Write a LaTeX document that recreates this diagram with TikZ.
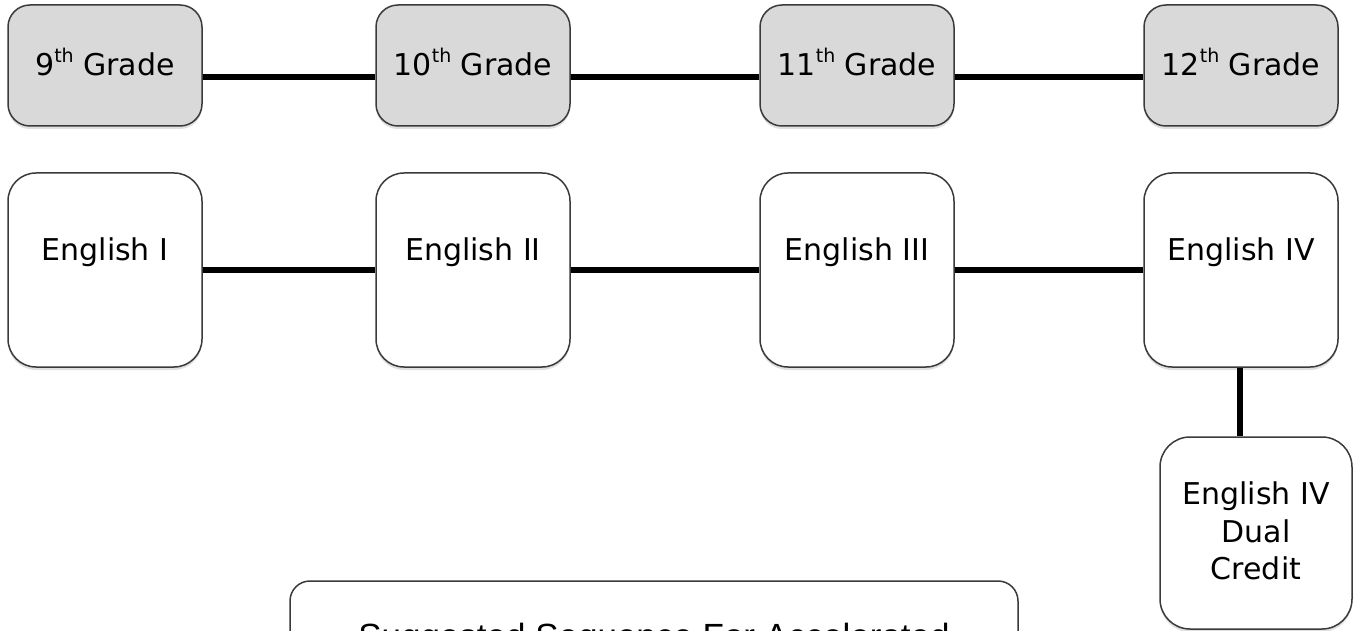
\documentclass[tikz,border=0pt]{standalone}
\usepackage{fontspec}
\setmainfont{DejaVu Sans}
\newfontfamily\bottomfont{Liberation Sans}
\usetikzlibrary{calc,shadows}
\definecolor{gfill}{HTML}{D9D9D9}
\definecolor{bord}{HTML}{3A3A3A}
\newcommand\thsup{\raisebox{0.42em}{\fontsize{19}{19}\selectfont th}}
\begin{document}
\begin{tikzpicture}[x=1pt,y=-1pt,
  shade/.style={drop shadow={shadow xshift=0pt,shadow yshift=-3pt,opacity=0.12,fill=black}},
  gradebox/.style={draw=bord,line width=1.5pt,fill=gfill,rounded corners=22pt,
    minimum width=194pt,minimum height=121pt,inner sep=0pt,shade},
  coursebox/.style={draw=bord,line width=1.5pt,fill=white,rounded corners=28pt,
    minimum width=194pt,minimum height=194pt,inner sep=0pt,shade},
  txt/.style={inner sep=0pt,font=\fontsize{30}{37.5}\selectfont,align=center},
  conn/.style={line width=6pt,black}]
\useasboundingbox (0,0) rectangle (1353,631);
\clip (0,0) rectangle (1353,631);
% grade boxes
\node[gradebox] (g1) at (105,65.5) {};
\node[gradebox] (g2) at (473,65.5) {};
\node[gradebox] (g3) at (857,65.5) {};
\node[gradebox] (g4) at (1241,65.5) {};
% course boxes
\node[coursebox] (e1) at (105,270) {};
\node[coursebox] (e2) at (473,270) {};
\node[coursebox] (e3) at (857,270) {};
\node[coursebox] (e4) at (1241,270) {};
\node[coursebox,rounded corners=30pt,minimum width=192pt,minimum height=192pt] (d) at (1256,533) {};
% bottom box
\node[draw=bord,line width=1.5pt,fill=white,rounded corners=20pt,minimum width=728pt,
  minimum height=200pt,inner sep=0pt,shade] (s) at (654,681) {};
% connectors
\draw[conn] ($(g1.east)+(0,11.5)$) -- ($(g2.west)+(0,11.5)$);
\draw[conn] ($(g2.east)+(0,11.5)$) -- ($(g3.west)+(0,11.5)$);
\draw[conn] ($(g3.east)+(0,11.5)$) -- ($(g4.west)+(0,11.5)$);
\draw[conn] (e1.east) -- (e2.west);
\draw[conn] (e2.east) -- (e3.west);
\draw[conn] (e3.east) -- (e4.west);
\coordinate (vtop) at ($(e4.south)+(-1,0)$);
\draw[conn] (vtop) -- (vtop |- d.north);
% texts
\node[txt] (t1) at (105,62) {9\thsup{} Grade};
\node[txt] (t2) at (473,62) {10\thsup{} Grade};
\node[txt] (t3) at (857,62) {11\thsup{} Grade};
\node[txt] (t4) at (1241,62) {12\thsup{} Grade};
\node[txt] (u1) at (105,252) {English I};
\node[txt] (u2) at (473,252) {English II};
\node[txt] (u3) at (857,252) {English III};
\node[txt] (u4) at (1241,252) {English IV};
\node[txt] (u5) at (1256,531) {English IV\\Dual\\Credit};
\node[inner sep=0pt,anchor=base,font=\bottomfont\fontsize{35}{42}\selectfont] (st) at (654,648) {Suggested Sequence For Accelerated};
\end{tikzpicture}
\end{document}
